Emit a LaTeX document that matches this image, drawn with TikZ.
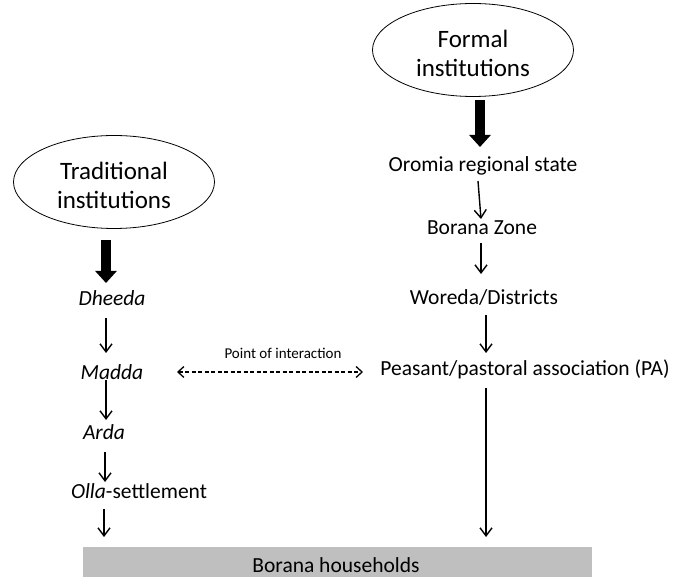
\documentclass[tikz,border=0pt]{standalone}
\usepackage{fontspec}
\setmainfont{Carlito}
\usetikzlibrary{arrows.meta,shapes.geometric,calc}
\definecolor{boxgray}{RGB}{191,191,191}
\newcommand{\ellstrut}{\rule{0pt}{25pt}}
\begin{document}
\begin{tikzpicture}[x=1pt,y=-1pt,
  lab/.style={font=\fontsize{21.5}{24}\selectfont, inner sep=0pt, anchor=base},
  ell/.style={draw, ellipse, minimum width=201pt, minimum height=93pt, inner sep=0pt, align=center,
              font=\fontsize{25}{29}\selectfont, line width=0.8pt},
  thinarr/.style={line width=1.4pt, -{Straight Barb[length=8pt,width=12pt]}},
  thickarr/.style={line width=10pt, -{Triangle[length=12pt,width=21pt]}},
  dasharr/.style={line width=1.3pt, dash pattern=on 4pt off 2.5pt,
                  {Straight Barb[length=6pt,width=11pt]}-{Straight Barb[length=6pt,width=11pt]}}
]
\useasboundingbox (0,0) rectangle (675,577);
% ellipses
\node[ell] (formal) at (473,50) {\ellstrut Formal\\institutions};
\node[ell] (trad) at (114,182) {\ellstrut Traditional\\institutions};
% right column
\node[lab] (oromia) at (483,172) {Oromia regional state};
\node[lab] (borana) at (482,235) {Borana Zone};
\node[lab] (woreda) at (484,305) {Woreda/Districts};
\node[lab] (pa) at (525,376) {Peasant/pastoral association (PA)};
% left column
\node[lab] (dheeda) at (112,306) {\itshape Dheeda};
\node[lab] (madda) at (112,380) {\itshape Madda};
\node[lab] (arda) at (104,439) {\itshape Arda};
\node[lab] (olla) at (139,498) {\textit{Olla}-settlement};
% interaction label
\node[inner sep=0pt, anchor=base, font=\fontsize{15}{17}\selectfont] (poi) at (283,359) {Point of interaction};
% households box
\node[fill=boxgray, minimum width=509pt, minimum height=30pt, inner sep=0pt, anchor=north west] (hh) at (83,547) {};
\node[lab] (hhl) at (336,572) {Borana households};
% thick arrows
\draw[thickarr] ($(formal.center)+(7,50)$) -- ($(oromia.base)+(-3,-25)$);
\draw[thickarr] ($(trad.center)+(-8,58)$) -- ($(dheeda.base)+(-6,-23)$);
% right arrows
\draw[thinarr] ($(oromia.base)+(-5,9)$) -- ($(borana.base)+(-1,-16)$);
\draw[thinarr] ($(borana.base)+(-1,8)$) -- ($(woreda.base)+(-3,-31)$);
\draw[thinarr] ($(woreda.base)+(2,10)$) -- ($(pa.base)+(-39,-23)$);
\draw[thinarr] ($(pa.base)+(-39,12)$) -- ($(hh.north west)+(403,-10)$);
% left arrows
\draw[thinarr] ($(dheeda.base)+(-6,12)$) -- ($(madda.base)+(-6,-27)$);
\draw[thinarr] ($(madda.base)+(-6,0)$) -- ($(arda.base)+(2,-19)$);
\draw[thinarr] ($(arda.base)+(1,13)$) -- ($(olla.base)+(-34,-16)$);
\draw[thinarr] ($(olla.base)+(-35,11)$) -- ($(hh.north west)+(21,-10)$);
% interaction
\draw[dasharr] ($(madda.base)+(65,-8)$) -- ($(pa.base)+(-162,-4)$);
\end{tikzpicture}
\end{document}
